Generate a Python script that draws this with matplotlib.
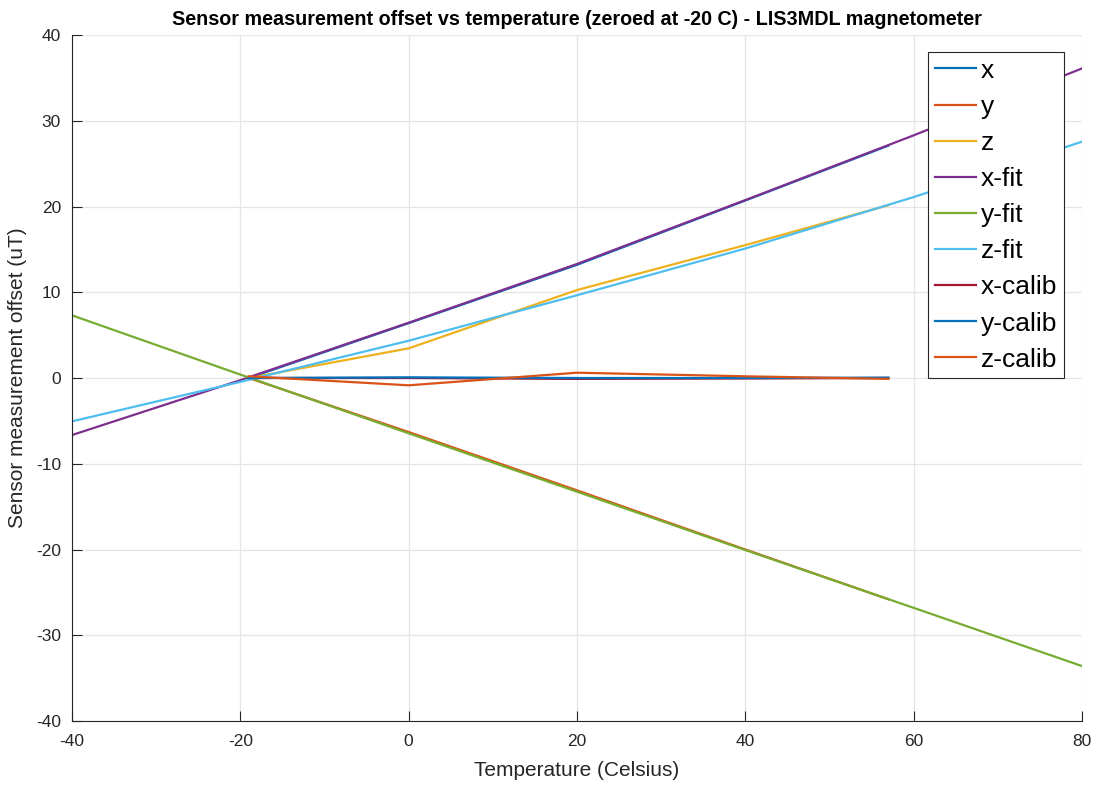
import matplotlib
matplotlib.use("Agg")
import matplotlib.pyplot as plt

plt.rcParams['font.family'] = ['Liberation Sans', 'DejaVu Sans']
plt.rcParams['axes.unicode_minus'] = False

# measured temperatures
temp = [-19, 0, 20, 40, 57]
x_meas = [0.0, 6.4, 13.2, 20.7, 27.1]
y_meas = [0.0, -6.3, -13.1, -20.0, -25.8]
z_meas = [0.0, 3.46, 10.26, 15.5, 20.15]

# fit lines
temp_fit = [-40, -20, 0, 20, 40, 60, 80]
x_fit = [-6.65, -0.25, 6.45, 13.3, 20.75, 28.3, 36.1]
y_fit = [7.31, 0.4, -6.45, -13.26, -20.06, -26.8, -33.59]
z_fit = [-5.05, -0.45, 4.35, 9.65, 15.1, 21.1, 27.56]

# calibrated
x_calib = [0.0, 0.0, -0.1, -0.05, 0.0]
y_calib = [0.0, 0.08, 0.0, 0.0, 0.05]
z_calib = [0.2, -0.85, 0.62, 0.2, -0.1]

colors = ['#0072BD', '#D95319', '#EDB120', '#7E2F8E', '#77AC30',
          '#4DBEEE', '#A2142F', '#0072BD', '#D95319']

fig = plt.figure(figsize=(10.98, 7.85), dpi=100)
ax = fig.add_axes([0.0656, 0.0815, 0.9198, 0.8739])

series = [
    (temp, x_meas, 'x'), (temp, y_meas, 'y'), (temp, z_meas, 'z'),
    (temp_fit, x_fit, 'x-fit'), (temp_fit, y_fit, 'y-fit'), (temp_fit, z_fit, 'z-fit'),
    (temp, x_calib, 'x-calib'), (temp, y_calib, 'y-calib'), (temp, z_calib, 'z-calib'),
]
for (t, v, lab), c in zip(series, colors):
    ax.plot(t, v, color=c, lw=1.6, label=lab)

ax.set_xlim(-40, 80)
ax.set_ylim(-40, 40)
ax.set_xticks(range(-40, 81, 20))
ax.set_yticks(range(-40, 41, 10))
ax.grid(True, color='#E5E5E5', lw=0.9)
ax.set_axisbelow(True)
for s in ['top', 'right']:
    ax.spines[s].set_visible(False)
for s in ['left', 'bottom']:
    ax.spines[s].set_color('#262626')
    ax.spines[s].set_linewidth(0.8)
ax.tick_params(direction='in', length=7, width=0.8, colors='#262626',
               labelsize=12.5)
ax.tick_params(axis='x', pad=9)
ax.tick_params(axis='y', pad=8)

ax.set_title('Sensor measurement offset vs temperature (zeroed at -20 C) - LIS3MDL magnetometer',
             fontsize=14.2, fontweight='bold', color='black', pad=7)
ax.set_xlabel('Temperature (Celsius)', fontsize=15, color='#262626', labelpad=9)
ax.set_ylabel('Sensor measurement offset (uT)', fontsize=15, color='#262626', labelpad=6)

leg = ax.legend(loc='upper right', bbox_to_anchor=(0.9822, 0.9752), fontsize=19,
                frameon=True, fancybox=False, edgecolor='#262626', framealpha=1,
                borderpad=0.25, labelspacing=0.46, handlelength=1.55,
                handletextpad=0.2, borderaxespad=0)
leg.get_frame().set_linewidth(0.8)

fig.savefig('out.png', dpi=100)
